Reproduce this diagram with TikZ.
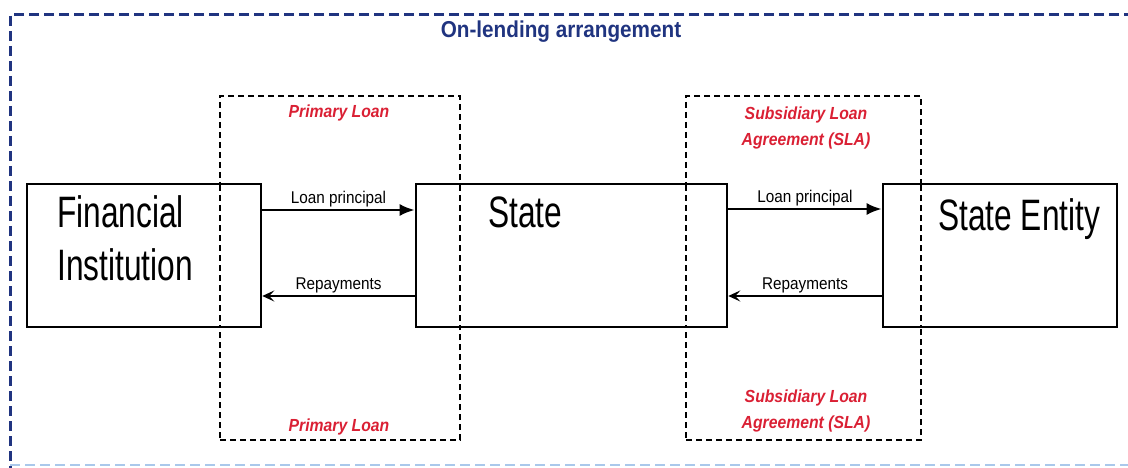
\documentclass[tikz,border=0pt]{standalone}
\usepackage{fontspec}
\setmainfont{Liberation Sans}
\newfontfamily\narrowsf[FakeStretch=0.72]{Liberation Sans}
\newfontfamily\flowsf[FakeStretch=0.9]{Liberation Sans}
\usepackage{tikz}
\usetikzlibrary{arrows.meta,calc}
\definecolor{navyline}{RGB}{32,52,128}
\definecolor{paleline}{RGB}{170,200,235}
\definecolor{loanred}{RGB}{218,32,52}

\begin{document}
\begin{tikzpicture}[x=1pt,y=-1pt,
  party/.style={draw,line width=2.6pt,inner sep=0pt},
  loanframe/.style={draw,line width=2.4pt,dash pattern=on 6pt off 4pt,inner sep=0pt},
  loanlabel/.style={text=loanred,align=center,font=\flowsf\bfseries\itshape\fontsize{17.5}{26}\selectfont},
  flowlabel/.style={above,inner sep=1.5pt,font=\flowsf\fontsize{17}{20}\selectfont},
  flow/.style={line width=2.4pt,-{Latex[length=15pt,width=12pt]}},
  backflow/.style={line width=2.4pt,-{Stealth[length=12pt,width=11pt,inset=5pt]}}]
\useasboundingbox (0,0) rectangle (1128,468);
\draw[navyline,line width=3pt,dash pattern=on 10pt off 5pt] (1134,15) -- (10,15) -- (10,468);
\draw[paleline,line width=2.5pt,dash pattern=on 10pt off 5pt] (10,465) -- (1128,465);
\node[text=navyline,font=\flowsf\bfseries\fontsize{23}{28}\selectfont] (title) at (561,32) {On-lending arrangement};
% loan agreements
\node[loanframe,minimum width=240pt,minimum height=344pt] (primary) at (340,268) {};
\node[loanframe,minimum width=235pt,minimum height=344pt] (sla) at (803.5,268) {};
\node[loanlabel] (primtop) at (339,113) {Primary Loan};
\node[loanlabel] (primbot) at (339,427) {Primary Loan};
\node[loanlabel] (slatop) at (806,128) {Subsidiary Loan\\Agreement (SLA)};
\node[loanlabel] (slabot) at (806,411) {Subsidiary Loan\\Agreement (SLA)};
% parties
\node[party,fill=white,minimum width=234pt,minimum height=143pt] (fi) at (144,255.5) {};
\node[party,fill=white,minimum width=311pt,minimum height=143pt] (state) at (571.5,255.5) {};
\node[party,fill=white,minimum width=234pt,minimum height=143pt] (entity) at (1000,255.5) {};
\draw[loanframe] (220,185) -- (220,326) (460,185) -- (460,326) (686,185) -- (686,326) (921,185) -- (921,326);
\node[anchor=north west,inner sep=0pt,align=left,font=\narrowsf\fontsize{44}{53}\selectfont] (fitxt) at (57,195) {Financial\\Institution};
\node[anchor=north west,inner sep=0pt,font=\narrowsf\fontsize{44}{53}\selectfont] (statetxt) at (488,197) {State};
\node[anchor=north west,inner sep=0pt,font=\narrowsf\fontsize{44}{53}\selectfont] (entitytxt) at (938,198) {State Entity};
% flows
\draw[flow] ([yshift=45.5pt]fi.east) -- node[flowlabel] {Loan principal} ([yshift=45.5pt]state.west);
\draw[backflow] ([yshift=-40.5pt]state.west) -- node[flowlabel] {Repayments} ([yshift=-40.5pt]fi.east);
\draw[flow] ([yshift=46.5pt]state.east) -- node[flowlabel] {Loan principal} ([yshift=46.5pt]entity.west);
\draw[backflow] ([yshift=-40.5pt]entity.west) -- node[flowlabel] {Repayments} ([yshift=-40.5pt]state.east);
\end{tikzpicture}
\end{document}
